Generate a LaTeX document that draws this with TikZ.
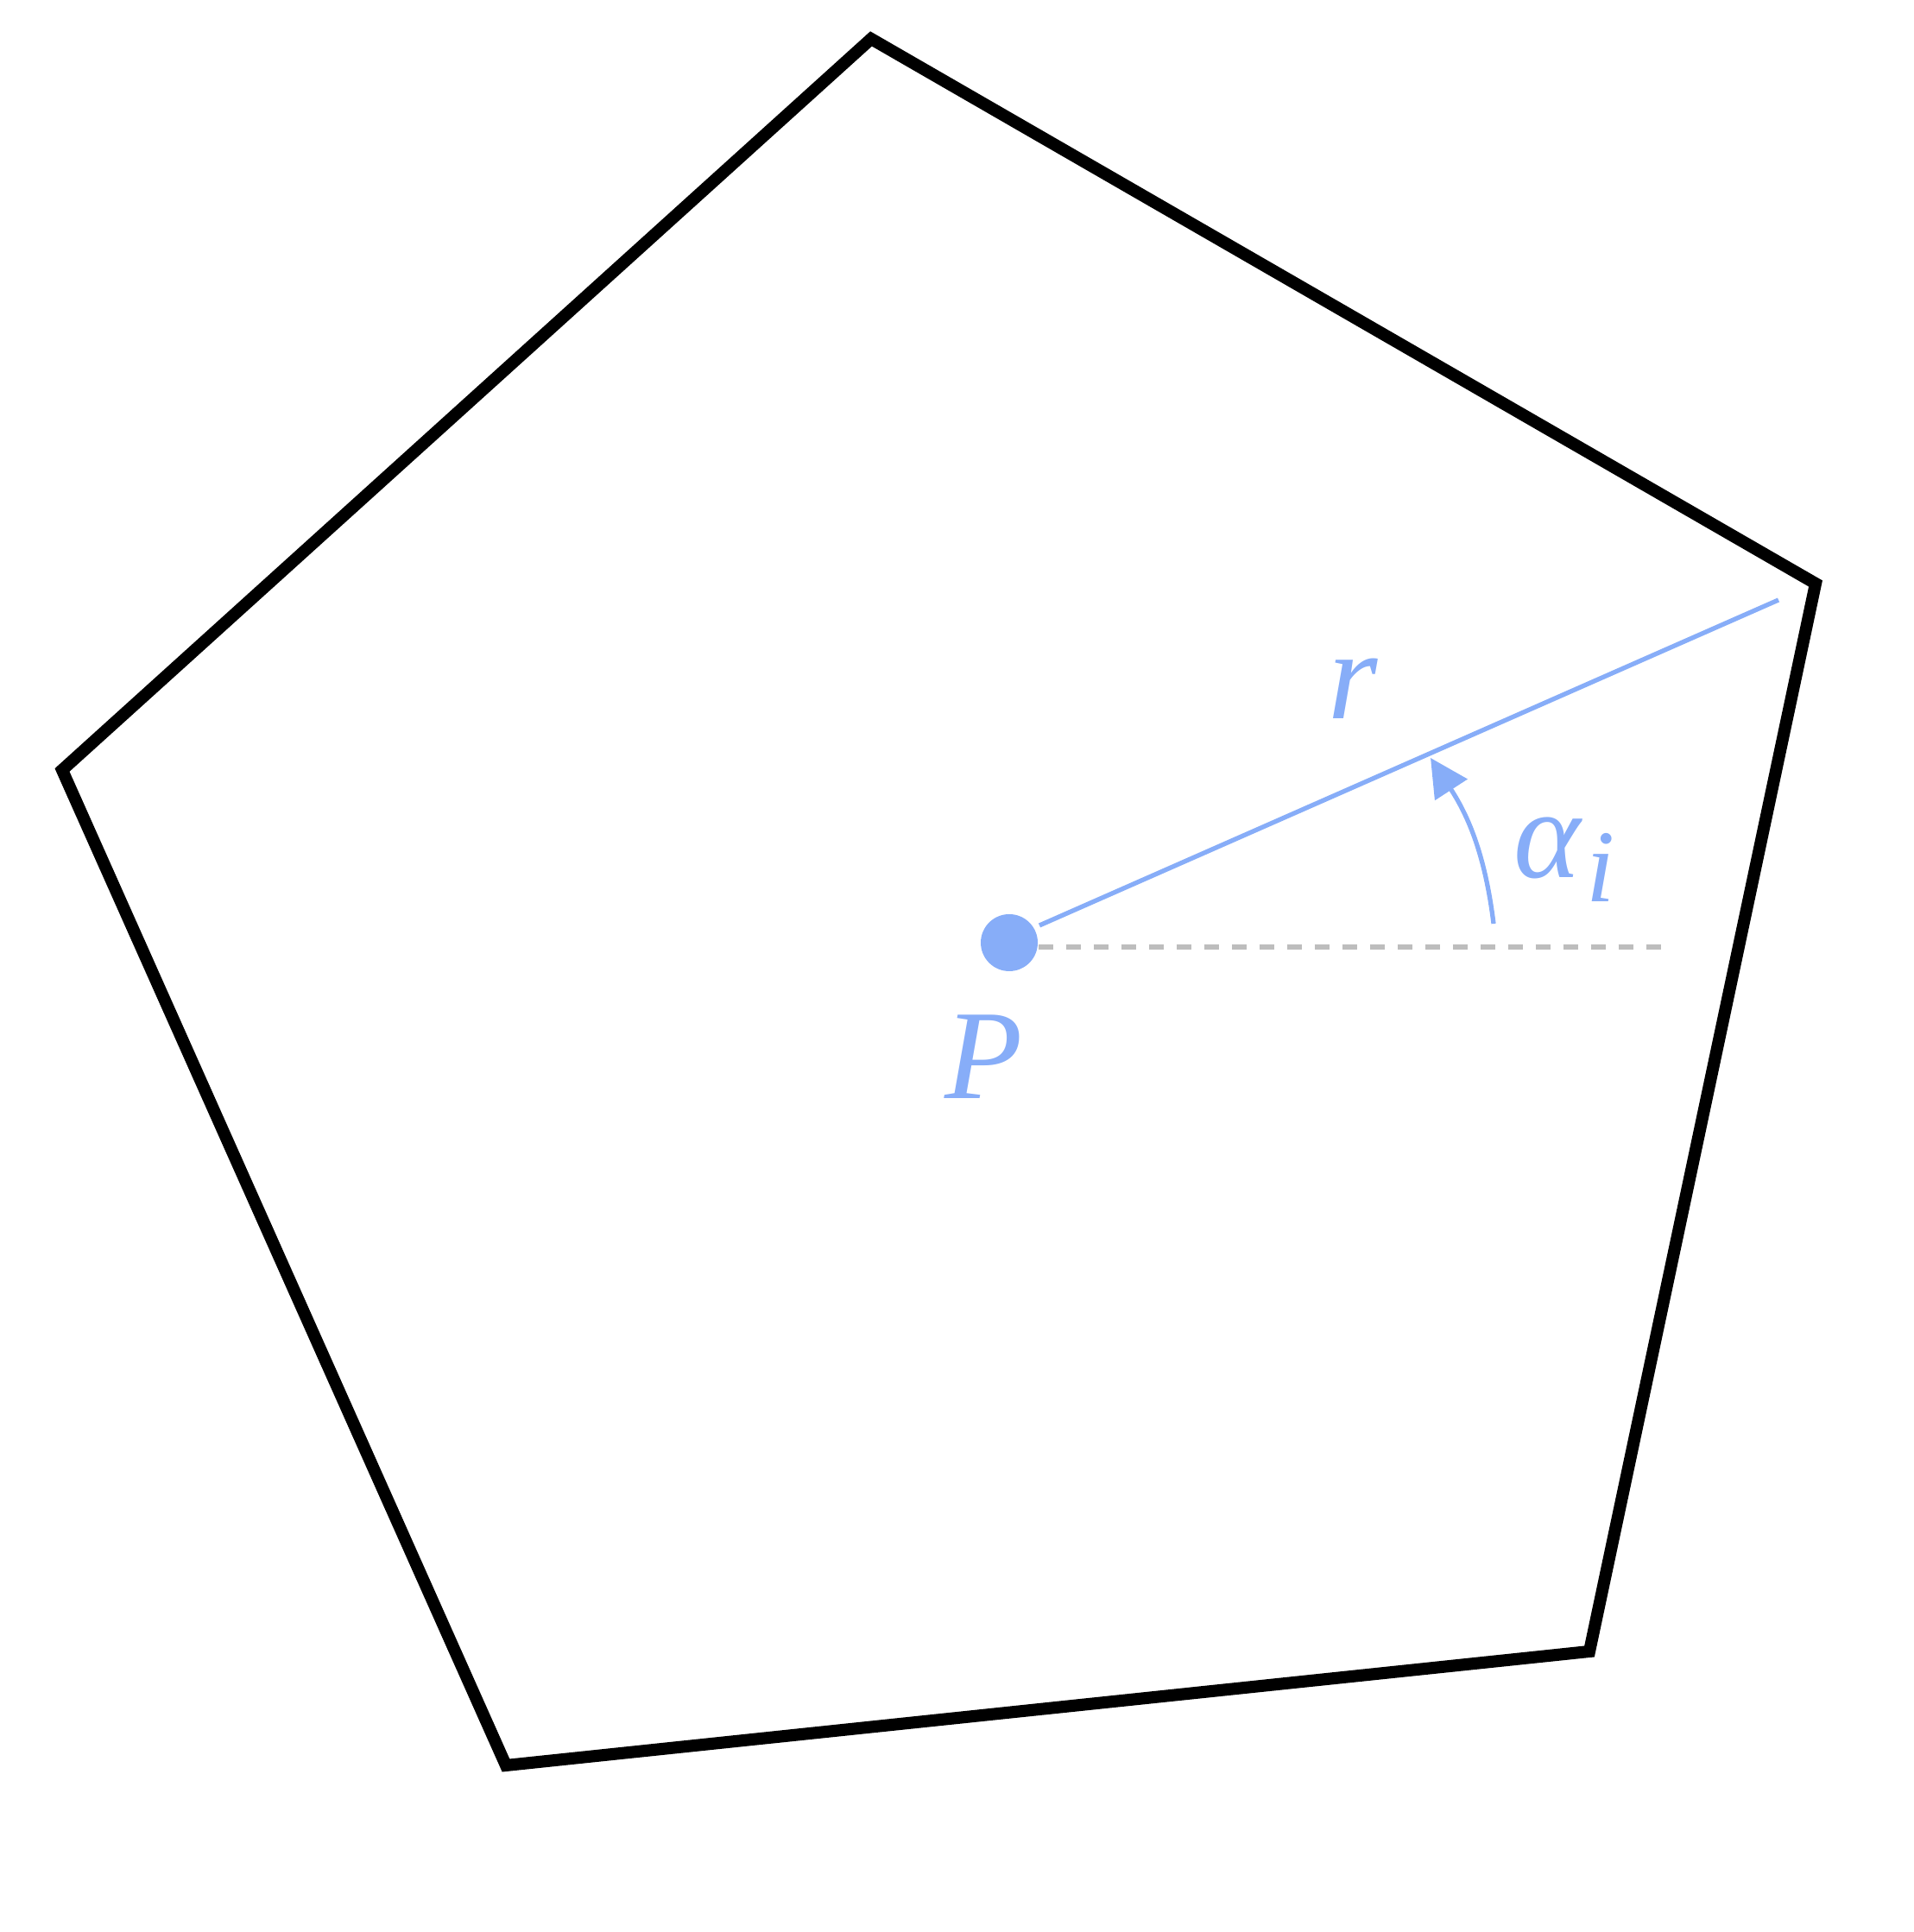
\documentclass[tikz,border=0pt]{standalone}
\usepackage{fontspec}
\setmainfont{Liberation Serif}
\usepackage{xcolor}
\usepackage{tikz}
\usetikzlibrary{arrows.meta,positioning,calc}
\definecolor{pointblue}{HTML}{87ADF8}
\definecolor{guidegray}{HTML}{BDBDBD}

\begin{document}
\begin{tikzpicture}[every node/.style={font=\fontsize{42}{50}\selectfont\itshape, text=pointblue}]
    \useasboundingbox (0,0) rectangle (22.16,22.38);
    % polygon
    \coordinate (v1) at (10.09,21.93);
    \coordinate (v2) at (21.03,15.62);
    \coordinate (v3) at (18.41,3.25);
    \coordinate (v4) at (5.86,1.93);
    \coordinate (v5) at (0.72,13.46);
    \draw[line width=4pt, miter limit=10] (v1) -- (v2) -- (v3) -- (v4) -- (v5) -- cycle;
    % point and rays
    \node[circle, fill=pointblue, minimum size=6.6mm, inner sep=0pt] (P) at (11.69,11.46) {};
    \coordinate (rs) at (12.04,11.66);
    \coordinate (re) at (20.60,15.43);
    \coordinate (ds) at (12.03,11.41);
    \coordinate (de) at (19.28,11.41);
    \coordinate (as) at (17.30,11.68);
    \coordinate (ae) at (16.57,13.60);
    \draw[guidegray, line width=1.5pt, dash pattern=on 4.8pt off 4.3pt] (ds) -- (de);
    \draw[pointblue, line width=1.5pt] (rs) -- (re);
    \draw[pointblue, line width=1.5pt, -{Triangle[length=4.4mm, width=4.4mm]}] (as) to[out=97, in=303] (ae);
    % labels
    \node (lr) at (15.67,14.40) {r};
    \node (la) at (18.12,12.42) {α\kern2pt\raisebox{-8pt}{\fontsize{34}{40}\selectfont i}};
    \node (lp) at (11.40,10.14) {P};
\end{tikzpicture}
\end{document}
